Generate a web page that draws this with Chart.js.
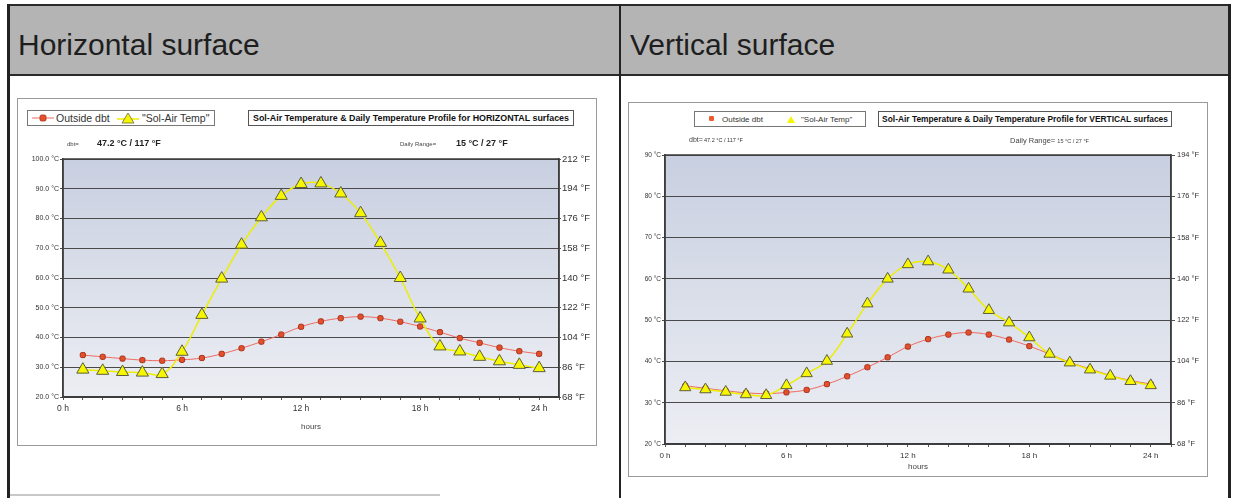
<!DOCTYPE html>
<html lang="en">
<head>
<meta charset="UTF-8">
<title>Sol-Air Temperature profiles</title>
<script src="https://cdn.jsdelivr.net/npm/chart.js"></script>
<style>
  body { margin: 0; width: 1234px; height: 498px; background: #fff; position: relative; overflow: hidden;
         font-family: "Liberation Sans", Arial, sans-serif; color: #222; }
  .abs { position: absolute; white-space: nowrap; }
  .band { left: 7px; top: 4px; width: 1224px; height: 72px; background: #b4b4b4;
          border-top: 2px solid #2a2a2a; border-bottom: 2px solid #2a2a2a; box-sizing: border-box; }
  .vline { top: 4px; height: 494px; background: #222; }
  .head { top: 30px; font-size: 30px; line-height: 30px; color: #1e1e1e; }
  .box { border: 1px solid #9a9a9a; box-sizing: border-box; background: #fff; }
  .leg { border: 1px solid #777; box-sizing: border-box; background: #fff; }
  .ttl { border: 1px solid #555; box-sizing: border-box; background: #fff; font-weight: bold;
         text-align: center; color: #111; }
  .leg span, .leg svg { position: absolute; }
</style>
</head>
<body>
  <div class="abs band"></div>
  <div class="abs vline" style="left:7px;width:3px"></div>
  <div class="abs vline" style="left:619px;width:2px"></div>
  <div class="abs vline" style="left:1228px;width:3px"></div>
  <div class="abs" style="left:10px;top:494px;width:430px;height:2px;background:#c8c8c8"></div>

  <div class="abs head" style="left:18px">Horizontal surface</div>
  <div class="abs head" style="left:630px">Vertical surface</div>

  <!-- horizontal surface chart -->
  <div class="abs box" style="left:17px;top:98px;width:580px;height:348px"></div>
  <canvas id="chartH" class="abs" style="left:17px;top:98px" width="580" height="348"></canvas>
  <div class="abs leg" style="left:27px;top:110px;width:188px;height:16px">
    <svg style="left:4px;top:2px" width="22" height="10"><line x1="0" y1="5" x2="22" y2="5" stroke="#ee6a60" stroke-width="1"/><rect x="8" y="2" width="6" height="6" rx="1.5" fill="#e4502c" stroke="#a8321c" stroke-width="0.8"/></svg>
    <span style="left:28px;top:1px;font-size:10.5px;line-height:13px;color:#333">Outside dbt</span>
    <svg style="left:89px;top:1px" width="22" height="12"><line x1="0" y1="7" x2="22" y2="7" stroke="#eeee00" stroke-width="1.5"/><polygon points="11,1 17,11 5,11" fill="#f6f600" stroke="#6a6a40" stroke-width="0.8"/></svg>
    <span style="left:114px;top:1px;font-size:10.5px;line-height:13px;color:#333">"Sol-Air Temp"</span>
  </div>
  <div class="abs ttl" style="left:248px;top:110px;width:326px;height:16px;font-size:8.9px;line-height:14px">Sol-Air Temperature &amp; Daily Temperature Profile for HORIZONTAL surfaces</div>
  <div class="abs" style="left:67px;top:141px;font-size:6px;line-height:6px;color:#444">dbt=</div>
  <div class="abs" style="left:97px;top:139px;font-size:9px;line-height:9px;font-weight:bold;color:#222">47.2 °C / 117 °F</div>
  <div class="abs" style="left:400px;top:141px;font-size:6px;line-height:6px;color:#444">Daily Range=</div>
  <div class="abs" style="left:456px;top:139px;font-size:9px;line-height:9px;font-weight:bold;color:#222">15 °C / 27 °F</div>

  <!-- vertical surface chart -->
  <div class="abs box" style="left:628px;top:102px;width:580px;height:375px"></div>
  <canvas id="chartV" class="abs" style="left:628px;top:102px" width="580" height="375"></canvas>
  <div class="abs leg" style="left:694px;top:111px;width:172px;height:16px">
    <svg style="left:13px;top:3px" width="8" height="8"><rect x="1" y="1" width="5" height="5" rx="1.2" fill="#ee5a30"/></svg>
    <span style="left:27px;top:3px;font-size:8px;line-height:9px;color:#333">Outside dbt</span>
    <svg style="left:91px;top:3px" width="10" height="9"><polygon points="5,1 9,8 1,8" fill="#f6f600"/></svg>
    <span style="left:106px;top:3px;font-size:8px;line-height:9px;color:#333">"Sol-Air Temp"</span>
  </div>
  <div class="abs ttl" style="left:878px;top:111px;width:294px;height:16px;font-size:8.4px;line-height:14px">Sol-Air Temperature &amp; Daily Temperature Profile for VERTICAL surfaces</div>
  <div class="abs" style="left:689px;top:136px;font-size:7px;line-height:7px;color:#444">dbt=</div>
  <div class="abs" style="left:704px;top:137px;font-size:5.5px;line-height:6px;color:#333">47.2 °C / 117 °F</div>
  <div class="abs" style="left:1010px;top:137px;font-size:7.5px;line-height:8px;color:#444">Daily Range= <span style="font-size:5.5px">15 °C / 27 °F</span></div>

<script>
  // hours of the day (x axis)
  const hours = [1, 2, 3, 4, 5, 6, 7, 8, 9, 10, 11, 12, 13, 14, 15, 16, 17, 18, 19, 20, 21, 22, 23, 24];

  // outside dry bulb temperature, °C (same profile on both charts)
  const outsideDbt = [34.1, 33.5, 32.9, 32.4, 32.2, 32.5, 33.1, 34.5, 36.4, 38.6, 41.0, 43.6,
                      45.4, 46.5, 47.0, 46.5, 45.3, 43.7, 41.8, 39.8, 38.2, 36.6, 35.4, 34.5];

  // sol-air temperature, °C
  const solAirHorizontal = [29.2, 28.8, 28.4, 28.2, 27.7, 35.2, 47.6, 59.8, 71.2, 80.4, 87.6, 91.6,
                            91.8, 88.4, 81.8, 71.8, 60.0, 46.4, 37.0, 35.3, 33.5, 32.0, 30.8, 29.7];
  const solAirVertical = [33.7, 33.2, 32.6, 32.0, 31.8, 34.2, 37.1, 40.1, 46.7, 54.0, 60.0, 63.5,
                          64.2, 62.2, 57.6, 52.4, 49.4, 45.8, 41.8, 39.7, 38.0, 36.5, 35.2, 34.2];

  // axis ranges [min, max, step]
  const celsiusH = [20, 100, 10], fahrenheitH = [68, 212, 18];
  const celsiusV = [20, 90, 10], fahrenheitV = [68, 194, 18];

  Chart.defaults.font.family = '"Liberation Sans", Arial, sans-serif';
  Chart.defaults.color = '#333';

  // gradient fill + frame of the plot area
  const plotFrame = {
    id: 'plotFrame',
    beforeDraw(chart) {
      const { ctx, chartArea: a } = chart;
      const g = ctx.createLinearGradient(0, a.top, 0, a.bottom);
      g.addColorStop(0, '#c8cfe0');
      g.addColorStop(1, '#eceef3');
      ctx.save();
      ctx.fillStyle = g;
      ctx.fillRect(a.left, a.top, a.width, a.height);
      ctx.restore();
    },
    beforeDatasetsDraw(chart) {
      const { ctx, chartArea: a } = chart;
      ctx.save();
      ctx.strokeStyle = '#3c3c3c';
      ctx.lineWidth = 1.5;
      ctx.strokeRect(a.left, a.top, a.width, a.height);
      ctx.restore();
    }
  };

  function drawProfile(id, solAir, c, f, o) {
    return new Chart(document.getElementById(id), {
      type: 'line',
      data: {
        datasets: [
          {
            label: '"Sol-Air Temp"',
            data: hours.map((h, i) => ({ x: h, y: solAir[i] })),
            borderColor: '#eeee00',
            borderWidth: 1.5,
            pointStyle: 'triangle',
            pointRadius: o.tri,
            pointBackgroundColor: '#f6f600',
            pointBorderColor: '#5e5e3c',
            pointBorderWidth: 1,
            tension: 0.4,
            order: 0
          },
          {
            label: 'Outside dbt',
            data: hours.map((h, i) => ({ x: h, y: outsideDbt[i] })),
            borderColor: '#ee6a60',
            borderWidth: 1,
            pointStyle: 'rectRounded',
            pointRadius: 3,
            pointBackgroundColor: '#e4502c',
            pointBorderColor: '#a8321c',
            pointBorderWidth: 1,
            tension: 0.4,
            order: 1
          }
        ]
      },
      options: {
        responsive: false,
        animation: false,
        events: [],
        layout: { padding: { top: o.top, left: 0, right: 0, bottom: 0 } },
        plugins: { legend: { display: false }, tooltip: { enabled: false } },
        scales: {
          x: {
            type: 'linear', min: 0, max: 25,
            afterFit(s) { s.height = o.xH; },
            ticks: {
              stepSize: 1, autoSkip: false, maxRotation: 0, padding: o.xPad,
              font: { size: o.xFont },
              callback: v => (v % 6 === 0 && v <= 24) ? v + ' h' : ''
            },
            grid: { drawOnChartArea: false, tickLength: 3, color: '#555' },
            border: { color: '#3c3c3c', width: 1.5 },
            title: { display: true, text: 'hours', font: { size: 8 }, color: '#444',
                     padding: { top: 0, bottom: o.hoursPad } }
          },
          y: {
            position: 'left', min: c[0], max: c[1],
            afterFit(s) { s.width = o.leftW; },
            ticks: { stepSize: c[2], padding: 1, font: { size: o.leftFont },
                     callback: v => (o.decimals ? v.toFixed(1) : v) + ' °C' },
            grid: { color: '#4a4a4a', lineWidth: 1, tickLength: 3 },
            border: { color: '#3c3c3c', width: 1.5 }
          },
          yF: {
            position: 'right', min: f[0], max: f[1],
            afterFit(s) { s.width = o.rightW; },
            ticks: { stepSize: f[2], padding: o.rPad, font: { size: o.rightFont },
                     callback: v => v + ' °F' },
            grid: { drawOnChartArea: false, tickLength: o.rTick, color: '#555' },
            border: { color: '#3c3c3c', width: 1.5 }
          }
        }
      },
      plugins: [plotFrame]
    });
  }

  drawProfile('chartH', solAirHorizontal, celsiusH, fahrenheitH, {
    top: 61, xH: 49, leftW: 46, rightW: 38, tri: 7,
    xPad: 4, xFont: 8.5, hoursPad: 14, leftFont: 7, decimals: true,
    rightFont: 9.5, rPad: 1, rTick: 2
  });

  drawProfile('chartV', solAirVertical, celsiusV, fahrenheitV, {
    top: 53, xH: 33, leftW: 37, rightW: 37, tri: 6.5,
    xPad: 4, xFont: 8, hoursPad: 5, leftFont: 6.5, decimals: false,
    rightFont: 7.5, rPad: 2, rTick: 4
  });
</script>
</body>
</html>
